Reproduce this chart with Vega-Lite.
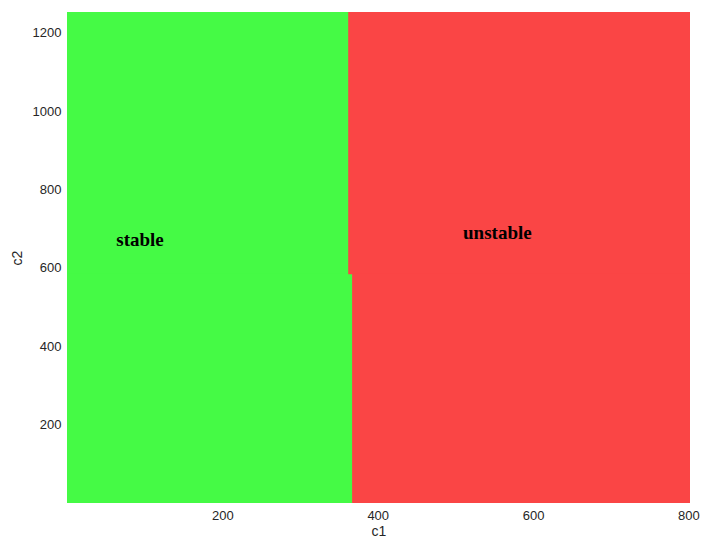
{
  "$schema": "https://vega.github.io/schema/vega-lite/v6.json",
  "autosize": "none",
  "width": 623,
  "height": 491,
  "padding": {"left": 67, "top": 12, "right": 12, "bottom": 39},
  "background": "white",
  "config": {"view": {"stroke": null}},
  "datasets": {
    "regions": [
      {"c1": 0, "c1_end": 363, "c2": 584, "c2_end": 1253, "cls": "stable"},
      {"c1": 0, "c1_end": 368, "c2": 0, "c2_end": 586, "cls": "stable"},
      {"c1": 362, "c1_end": 802, "c2": 584, "c2_end": 1253, "cls": "unstable"},
      {"c1": 367, "c1_end": 802, "c2": 0, "c2_end": 586, "cls": "unstable"}
    ],
    "labels": [
      {"c1": 94, "c2": 672, "text": "stable"},
      {"c1": 554, "c2": 688, "text": "unstable"}
    ]
  },
  "layer": [
    {
      "data": {"name": "regions"},
      "mark": {"type": "rect", "strokeWidth": 0},
      "encoding": {
        "x": {"field": "c1", "type": "quantitative", "scale": {"domain": [0, 802], "nice": false, "zero": false},
              "axis": {"orient": "bottom", "values": [200, 400, 600, 800], "format": "d", "grid": false, "domain": false, "ticks": false, "labelFont": "Liberation Sans", "labelFontSize": 13, "labelColor": "#262626", "labelPadding": 6, "title": "c1", "titleFont": "Liberation Sans", "titleFontSize": 14, "titleFontWeight": "normal", "titleColor": "#262626", "titlePadding": 2}},
        "x2": {"field": "c1_end"},
        "y": {"field": "c2", "type": "quantitative", "scale": {"domain": [0, 1253], "nice": false, "zero": false},
              "axis": {"orient": "left", "values": [200, 400, 600, 800, 1000, 1200], "format": "d", "grid": false, "domain": false, "ticks": false, "labelFont": "Liberation Sans", "labelFontSize": 13, "labelColor": "#262626", "labelPadding": 6, "title": "c2", "titleFont": "Liberation Sans", "titleFontSize": 14, "titleFontWeight": "normal", "titleColor": "#262626", "titlePadding": 8}},
        "y2": {"field": "c2_end"},
        "color": {"field": "cls", "type": "nominal", "scale": {"domain": ["stable", "unstable"], "range": ["#45fa45", "#fa4545"]}, "legend": null}
      }
    },
    {
      "data": {"name": "labels"},
      "mark": {"type": "text", "font": "Liberation Serif", "fontWeight": "bold", "fontSize": 19, "color": "black", "align": "center", "baseline": "middle"},
      "encoding": {
        "x": {"field": "c1", "type": "quantitative"},
        "y": {"field": "c2", "type": "quantitative"},
        "text": {"field": "text"}
      }
    }
  ]
}
